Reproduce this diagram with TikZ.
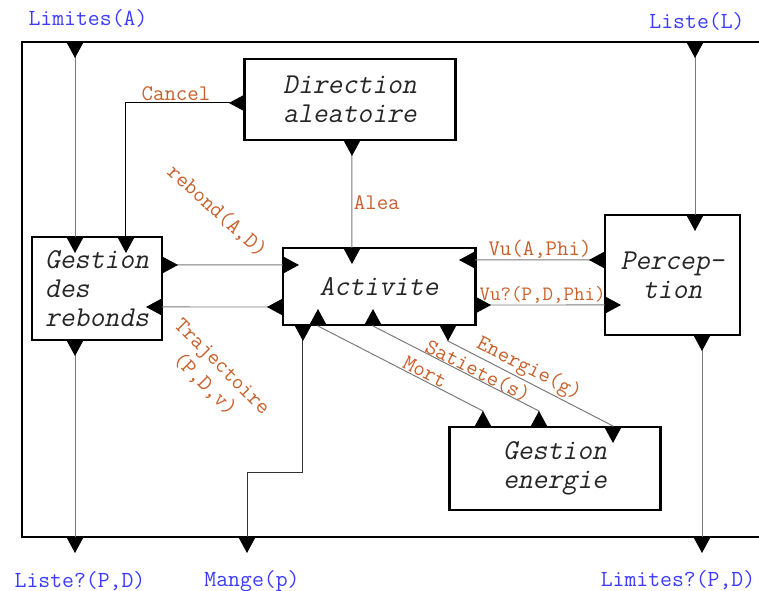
\documentclass[tikz,border=0pt]{standalone}
\usepackage{fontspec}
\newfontfamily\boxfont[FakeSlant=0.2]{Latin Modern Mono}
\usetikzlibrary{arrows.meta, calc}
\definecolor{lblorange}{HTML}{C8602C}
\definecolor{extblue}{HTML}{3C3CFF}
\definecolor{wiregray}{HTML}{7A7A7A}

\begin{document}
\begin{tikzpicture}[
    x=0.025cm, y=-0.025cm,
    box/.style={draw, line width=2.1pt, inner sep=0pt, outer sep=0pt, align=center, text=black!85, font=\fontsize{20.5}{20.6}\selectfont\boxfont},
    lbl/.style={font=\fontsize{15.8}{17.5}\selectfont\ttfamily, text=lblorange, inner sep=1pt},
    ext/.style={font=\fontsize{16.4}{17}\selectfont\ttfamily, text=extblue},
    srcport/.tip={Triangle[length=4mm, width=4.25mm, color=black, reversed]},
    dstport/.tip={Triangle[length=4mm, width=4.25mm, color=black]},
    flow/.style={draw=wiregray, line width=0.7pt, {srcport}-{dstport}, shorten >=-4mm}
]
\useasboundingbox (0,0) rectangle (759,591);

% outer frame, open on the right
\draw[line width=2.1pt] (790,42) -- (22,42) -- (22,537) -- (790,537);

% frame ports
\coordinate (limA) at (75,42);
\coordinate (listeL) at (695,42);
\coordinate (listeQ) at (75,537);
\coordinate (mange) at (247,537);
\coordinate (limQ) at (702,537);

% boxes
\node[box, minimum width=5.25cm, minimum height=2.025cm] (dir) at (350,99.5) {Direction\\aleatoire};
\node[box, minimum width=3.25cm, minimum height=2.575cm, align=left] (reb) at (97,288.5) {Gestion\\des\\rebonds};
\node[box, minimum width=4.8cm, minimum height=1.925cm] (act) at (379,286.5) {Activite};
\node[box, minimum width=3.375cm, minimum height=3cm] (perc) at (672.5,275) {Percep-\\tion};
\node[box, minimum width=5.25cm, minimum height=2.075cm] (nrj) at (555,468.5) {Gestion\\energie};

% outside names
\node[ext] (limAtxt) at (88,18) {Limites(A)};
\node[ext] (listeLtxt) at (697,21) {Liste(L)};
\node[ext] (listeQtxt) at (80,581) {Liste?(P,D)};
\node[ext] (mangetxt) at (252,581) {Mange(p)};
\node[ext] (limQtxt) at (678,580) {Limites?(P,D)};

% inputs and outputs of the frame
\draw[flow] (limA) -- (limA |- reb.north);
\draw[flow] (listeL) -- (listeL |- perc.north);
\draw[flow] (reb.south -| listeQ) -- (listeQ);
\draw[flow] (perc.south -| limQ) -- (limQ);
\draw[flow, draw=black!80] ($(act.south west)+(20,0)$) -- ++(0,147) -| (mange);

% links between boxes
\draw[flow, draw=black] ($(dir.north west)+(0,44)$) -| node[lbl, above, pos=0.29] (canceltxt) {Cancel} ($(reb.north west)+(94,0)$);
\draw[flow] ($(dir.south west)+(107,0)$) -- node[lbl, right, pos=0.58] (aleatxt) {Alea} ($(act.north west)+(69,0)$);
\draw[flow] ($(reb.north east)+(0,28)$) -- ($(act.north west)+(0,17)$);
\draw[flow] ($(act.south west)+(0,-18)$) -- ($(reb.north east)+(0,70)$);
\draw[flow] ($(perc.north west)+(0,45)$) -- node[lbl, above, pos=0.5] (vutxt) {Vu(A,Phi)} ($(act.north east)+(0,12)$);
\draw[flow] ($(act.south east)+(0,-20)$) -- node[lbl, above, pos=0.52, font=\fontsize{14.5}{15}\selectfont\ttfamily] (vuqtxt) {Vu?(P,D,Phi)} ($(perc.north west)+(0,90)$);
\draw[flow] ($(nrj.north west)+(33,0)$) -- ++(0,-16) -- ($(act.south west)+(35,1)$) -- ($(act.south west)+(35,0)$);
\draw[flow] ($(nrj.north west)+(89,0)$) -- ++(0,-16) -- ($(act.south west)+(90,1)$) -- ($(act.south west)+(90,0)$);
\draw[flow] ($(act.south west)+(165,0)$) -- ++(0,16) -- ($(nrj.north west)+(163,-1)$) -- ($(nrj.north west)+(163,0)$);

% slanted labels
\node[lbl, rotate=-42] (rebondtxt) at (217,211) {rebond(A,D)};
\node[lbl, rotate=-45, align=center] (trajtxt) at (213,376) {Trajectoire\\(P,D,v)};
\node[lbl, rotate=-27] (morttxt) at (425,372) {Mort};
\node[lbl, rotate=-27] (satietetxt) at (478,371) {Satiete(s)};
\node[lbl, rotate=-27] (energietxt) at (529,369) {Energie(g)};

\end{tikzpicture}
\end{document}
